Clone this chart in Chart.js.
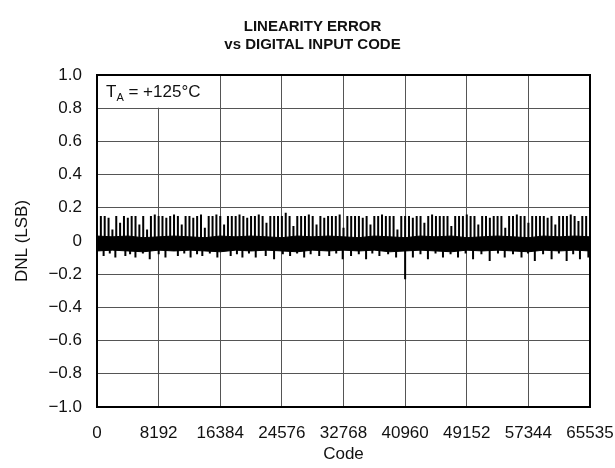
<!DOCTYPE html>
<html>
<head>
<meta charset="utf-8">
<script src="https://cdn.jsdelivr.net/npm/chart.js@4.4.1/dist/chart.umd.min.js"></script>
<style>
  html, body { margin: 0; padding: 0; background: #fff; }
  #wrap { width: 615px; height: 468px; }
</style>
</head>
<body>
<div id="wrap"><canvas id="c" width="615" height="468"></canvas></div>
<script>
// ---- data ----
const titleLines = ['LINEARITY ERROR', 'vs DIGITAL INPUT CODE'];
const xTickCodes = [0, 8192, 16384, 24576, 32768, 40960, 49152, 57344, 65535];
const yMin = -1.0, yMax = 1.0, yStep = 0.2;

// dense noise band (codes every 2048)
const bandCodes = [0,2048,4096,6144,8192,10240,12288,14336,16384,18432,20480,22528,24576,26624,28672,30720,32768,34816,36864,38912,40960,43008,45056,47104,49152,51200,53248,55296,57344,59392,61440,63488,65535];
const bandUpper = [0.03,0.025,0.03,0.02,0.025,0.03,0.025,0.02,0.03,0.025,0.03,0.025,0.02,0.03,0.025,0.03,0.025,0.02,0.03,0.025,0.02,0.03,0.025,0.03,0.02,0.025,0.03,0.025,0.02,0.03,0.025,0.03,0.025];
const bandLower = [-0.06,-0.055,-0.06,-0.065,-0.055,-0.06,-0.055,-0.06,-0.065,-0.055,-0.06,-0.055,-0.06,-0.065,-0.055,-0.06,-0.055,-0.06,-0.055,-0.065,-0.06,-0.055,-0.06,-0.065,-0.055,-0.06,-0.055,-0.06,-0.065,-0.055,-0.06,-0.055,-0.06];

// positive spikes, one every 512 codes
const upSpikeHeights = [
  0.15,0.15,0.14,0.07,0.15,0.11,0.15,0.14,0.15,0.15,
  0.10,0.15,0.07,0.15,0.16,0.15,0.15,0.14,0.15,0.16,
  0.15,0.10,0.15,0.15,0.14,0.15,0.16,0.08,0.15,0.15,
  0.16,0.15,0.10,0.15,0.15,0.15,0.16,0.15,0.14,0.15,
  0.15,0.16,0.15,0.11,0.15,0.15,0.15,0.15,0.17,0.15,
  0.09,0.15,0.15,0.15,0.16,0.15,0.10,0.15,0.14,0.15,
  0.15,0.15,0.16,0.08,0.15,0.15,0.15,0.15,0.14,0.15,
  0.10,0.15,0.15,0.16,0.15,0.15,0.15,0.07,0.15,0.15,
  0.15,0.14,0.15,0.15,0.11,0.15,0.16,0.15,0.15,0.15,
  0.15,0.09,0.15,0.15,0.15,0.16,0.15,0.15,0.10,0.15,
  0.15,0.14,0.15,0.15,0.15,0.08,0.15,0.15,0.16,0.15,
  0.15,0.11,0.15,0.15,0.15,0.15,0.14,0.15,0.10,0.15,
  0.15,0.15,0.16,0.15,0.12,0.15,0.15
];
const upSpikeCodes = upSpikeHeights.map((_, i) => (i + 1) * 512);

// deeper negative spikes
const downSpikeCodes = [880,2440,3770,5110,7010,9100,10750,12440,14000,16000,17770,19330,21100,22430,23540,25670,27540,29540,30870,32660,33770,35770,37540,39760,40960,41990,43990,45990,47990,49990,52200,54200,56430,58200,60430,62430,64200,65320];
const downSpikeValues = [-0.09,-0.10,-0.09,-0.10,-0.11,-0.10,-0.09,-0.10,-0.09,-0.10,-0.09,-0.10,-0.10,-0.09,-0.11,-0.09,-0.10,-0.09,-0.09,-0.11,-0.09,-0.11,-0.09,-0.10,-0.23,-0.10,-0.11,-0.10,-0.10,-0.11,-0.12,-0.10,-0.10,-0.12,-0.11,-0.12,-0.11,-0.10];
// shallow negative ticks on the band's lower edge
const smallDownCodes = [1700,4400,6100,8200,11600,13300,15000,18600,20200,24700,26600,28400,31800,34800,36600,38700,43000,45000,47000,49000,51100,53300,55300,57300,59300,61400,63300];
const smallDownValues = [-0.075,-0.08,-0.075,-0.08,-0.075,-0.08,-0.075,-0.08,-0.075,-0.08,-0.075,-0.08,-0.075,-0.08,-0.075,-0.08,-0.08,-0.075,-0.08,-0.075,-0.08,-0.075,-0.08,-0.075,-0.08,-0.075,-0.08];

const annotation = { main: 'T', sub: 'A', rest: ' = +125°C', x0: 0, x1: 16384, y0: 1.0, y1: 0.8 };

// ---- build datasets ----
function spikes(codes, vals) {
  const out = [];
  codes.forEach((c, i) => { out.push({x: c, y: 0}, {x: c, y: vals[i]}, {x: c, y: null}); });
  return out;
}
const FONT = "'Liberation Sans', Arial, Helvetica, sans-serif";

const framePlugin = {
  id: 'frame',
  afterDatasetsDraw(chart) {
    const {ctx, chartArea: a, scales} = chart;
    const xs = scales.x, ys = scales.y;
    const l = xs.getPixelForValue(annotation.x0), r = xs.getPixelForValue(annotation.x1);
    const t = ys.getPixelForValue(annotation.y0), b = ys.getPixelForValue(annotation.y1);
    ctx.save();
    ctx.fillStyle = '#fff';
    ctx.fillRect(l + 1, t + 1, r - l - 1.5, b - t - 1.5);
    ctx.fillStyle = '#111';
    ctx.textBaseline = 'middle';
    ctx.font = '17px ' + FONT;
    let x = l + 9, y = (t + b) / 2 + 1;
    ctx.fillText(annotation.main, x, y);
    x += ctx.measureText(annotation.main).width;
    ctx.font = '11px ' + FONT;
    ctx.fillText(annotation.sub, x, y + 5);
    x += ctx.measureText(annotation.sub).width;
    ctx.font = '17px ' + FONT;
    ctx.fillText(annotation.rest, x, y);
    ctx.strokeStyle = '#000';
    ctx.lineWidth = 2;
    ctx.strokeRect(a.left, a.top, a.right - a.left, a.bottom - a.top);
    ctx.restore();
  }
};

new Chart(document.getElementById('c'), {
  type: 'line',
  data: {
    datasets: [
      { data: bandCodes.map((c, i) => ({x: c, y: bandUpper[i]})), borderColor: '#000', borderWidth: 1, pointRadius: 0, fill: false, tension: 0 },
      { data: bandCodes.map((c, i) => ({x: c, y: bandLower[i]})), borderColor: '#000', borderWidth: 1, pointRadius: 0, fill: '-1', backgroundColor: '#000', tension: 0 },
      { data: spikes(upSpikeCodes, upSpikeHeights), borderColor: '#000', borderWidth: 2, pointRadius: 0, spanGaps: false, fill: false },
      { data: spikes(downSpikeCodes, downSpikeValues), borderColor: '#000', borderWidth: 2, pointRadius: 0, spanGaps: false, fill: false },
      { data: spikes(smallDownCodes, smallDownValues), borderColor: '#000', borderWidth: 2, pointRadius: 0, spanGaps: false, fill: false }
    ]
  },
  options: {
    responsive: false,
    animation: false,
    events: [],
    layout: { padding: { left: 10, right: 0, top: 0, bottom: 3 } },
    plugins: {
      legend: { display: false },
      tooltip: { enabled: false },
      title: {
        display: true,
        text: titleLines,
        color: '#111',
        font: { family: FONT, size: 15, weight: 'bold', lineHeight: 1.2 },
        padding: { top: 18, bottom: 21 }
      }
    },
    scales: {
      x: {
        type: 'linear',
        min: 0, max: 65535,
        afterBuildTicks: (s) => { s.ticks = xTickCodes.map(v => ({value: v})); },
        afterFit: (s) => { s.height = 58; s.paddingRight = 25; s.paddingLeft = 0; },
        ticks: { color: '#111', font: { family: FONT, size: 17 }, padding: 16, maxRotation: 0, autoSkip: false, callback: (v) => String(v) },
        grid: { color: '#555', lineWidth: 1, drawTicks: false },
        border: { display: false },
        title: { display: true, text: 'Code', color: '#111', font: { family: FONT, size: 17 }, padding: { top: 2, bottom: 0 } }
      },
      y: {
        min: yMin, max: yMax,
        afterFit: (s) => { s.width = 87; },
        ticks: {
          stepSize: yStep, color: '#111', font: { family: FONT, size: 17 }, padding: 15,
          callback: (v) => Math.abs(v) < 1e-9 ? '0' : (v < 0 ? '\u2212' : '') + Math.abs(v).toFixed(1)
        },
        grid: { color: '#555', lineWidth: 1, drawTicks: false },
        border: { display: false },
        title: { display: true, text: 'DNL (LSB)', color: '#111', font: { family: FONT, size: 17 }, padding: { top: 2, bottom: 4 } }
      }
    }
  },
  plugins: [framePlugin]
});
</script>
</body>
</html>
